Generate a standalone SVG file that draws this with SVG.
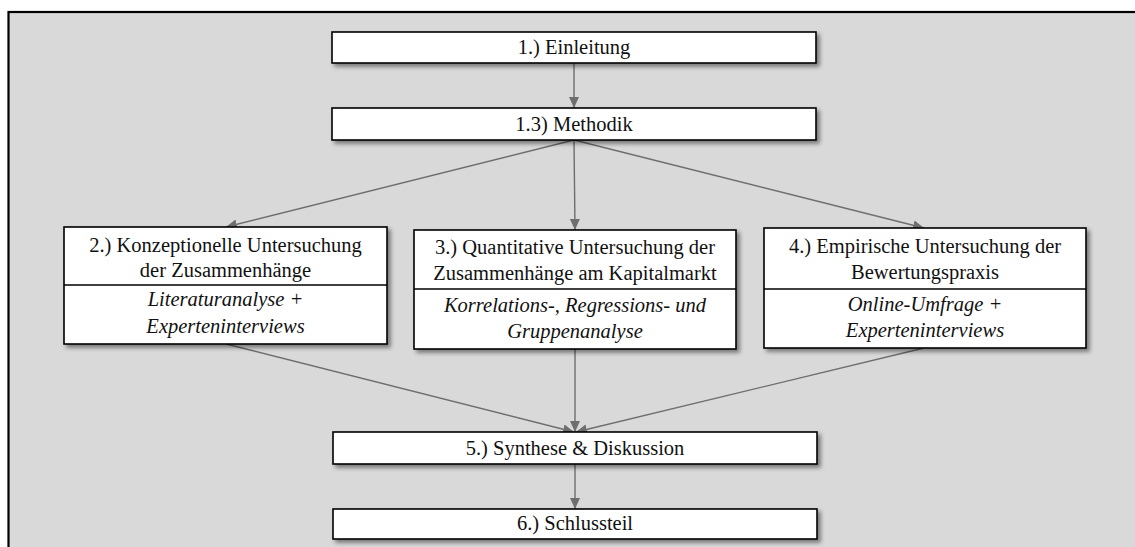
<svg xmlns="http://www.w3.org/2000/svg" width="1135" height="547" viewBox="0 0 1135 547">
  <style>
    .box { fill: #ffffff; stroke: #000000; stroke-width: 1.6; filter: url(#shadow); }
    .div { stroke: #000000; stroke-width: 1.6; }
    .t { font-family: 'Liberation Serif', Tinos, 'Times New Roman', 'DejaVu Serif', serif; font-size: 20.5px; fill: #111111; text-anchor: middle; }
    .i { font-style: italic; }
    .edge { stroke: #6e6e6e; stroke-width: 1.4; fill: none; marker-end: url(#arr); }
  </style>
  <defs>
    <filter id="shadow" x="-10%" y="-20%" width="130%" height="160%">
      <feDropShadow dx="3" dy="3" stdDeviation="2" flood-color="#000000" flood-opacity="0.45"/>
    </filter>
    <marker id="arr" markerUnits="userSpaceOnUse" markerWidth="12" markerHeight="12" viewBox="0 0 12 12" refX="11" refY="6" orient="auto">
      <path d="M0,1 L11,6 L0,11 Z" fill="#6e6e6e"/>
    </marker>
  </defs>

  <rect x="8.5" y="12" width="1130" height="540" fill="#d9d9d9" stroke="#000000" stroke-width="2.2"/>

  <g id="connectors">
    <line class="edge" x1="574" y1="63" x2="574" y2="108"/>
    <line class="edge" x1="574" y1="140" x2="226" y2="227"/>
    <line class="edge" x1="574" y1="140" x2="575" y2="230"/>
    <line class="edge" x1="574" y1="140" x2="924" y2="228"/>
    <line class="edge" x1="226" y1="344" x2="574" y2="432"/>
    <line class="edge" x1="575" y1="349" x2="575" y2="432"/>
    <line class="edge" x1="924" y1="348" x2="576" y2="432"/>
    <line class="edge" x1="575" y1="464" x2="575" y2="509"/>
  </g>

  <g id="einleitung">
    <rect class="box" x="332" y="32" width="484" height="31"/>
    <text class="t" x="574" y="54" font-family="Liberation Serif, serif">1.) Einleitung</text>
  </g>

  <g id="methodik">
    <rect class="box" x="332" y="108" width="484" height="32"/>
    <text class="t" x="574" y="131">1.3) Methodik</text>
  </g>

  <g id="konzeptionell">
    <rect class="box" x="64" y="227" width="323" height="117"/>
    <line class="div" x1="64" y1="285" x2="387" y2="285"/>
    <text class="t" x="225.5" y="252">2.) Konzeptionelle Untersuchung</text>
    <text class="t" x="225.5" y="277">der Zusammenhänge</text>
    <text class="t i" x="225.5" y="306">Literaturanalyse +</text>
    <text class="t i" x="225.5" y="333">Experteninterviews</text>
  </g>

  <g id="quantitativ">
    <rect class="box" x="414" y="230" width="322" height="119"/>
    <line class="div" x1="414" y1="289" x2="736" y2="289"/>
    <text class="t" x="575" y="254">3.) Quantitative Untersuchung der</text>
    <text class="t" x="575" y="280">Zusammenhänge am Kapitalmarkt</text>
    <text class="t i" x="575" y="312">Korrelations-, Regressions- und</text>
    <text class="t i" x="575" y="338">Gruppenanalyse</text>
  </g>

  <g id="empirisch">
    <rect class="box" x="764" y="228" width="322" height="120"/>
    <line class="div" x1="764" y1="289" x2="1086" y2="289"/>
    <text class="t" x="925" y="253">4.) Empirische Untersuchung der</text>
    <text class="t" x="925" y="279">Bewertungspraxis</text>
    <text class="t i" x="925" y="311">Online-Umfrage +</text>
    <text class="t i" x="925" y="337">Experteninterviews</text>
  </g>

  <g id="synthese">
    <rect class="box" x="333" y="432" width="484" height="32"/>
    <text class="t" x="575" y="455">5.) Synthese &amp; Diskussion</text>
  </g>

  <g id="schlussteil">
    <rect class="box" x="333" y="509" width="484" height="30"/>
    <text class="t" x="575" y="530">6.) Schlussteil</text>
  </g>
</svg>
